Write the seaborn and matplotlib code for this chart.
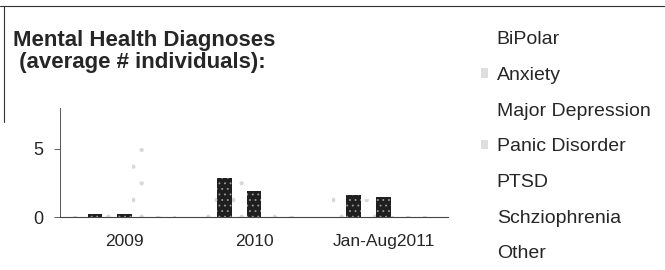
import numpy as np
import pandas as pd
import matplotlib
matplotlib.use("Agg")
import matplotlib.pyplot as plt
from matplotlib.lines import Line2D
from matplotlib.patches import Patch
import seaborn as sns

# ---- data ----
periods = ['2009', '2010', 'Jan-Aug2011']
categories = ['BiPolar', 'Anxiety', 'Major Depression', 'Panic Disorder',
              'PTSD', 'Schziophrenia', 'Other']
v_2009 = [0.1, 0.2, 0.7, 0.2, 5.4, 0.05, 0.05]
v_2010 = [2.2, 2.9, 3.3, 1.9, 0.3, 0.1, 0.05]
v_2011 = [2.0, 1.6, 1.3, 1.5, 0.1, 0.05, 0.05]

# dark stipple for the two visible series, near-white for the rest
dark = ['Anxiety', 'Panic Disorder']
palette = {c: ('#1f1f1f' if c in dark else '#ffffff') for c in categories}

df = pd.DataFrame({
    'period': np.repeat(periods, len(categories)),
    'diagnosis': categories * len(periods),
    'value': v_2009 + v_2010 + v_2011,
})

sns.set_theme(style="white")
plt.rcParams['font.family'] = ['Liberation Sans', 'DejaVu Sans']
plt.rcParams['hatch.linewidth'] = 0.6

fig = plt.figure(figsize=(6.65, 2.7), dpi=100)
ax = fig.add_axes([0.090, 0.196, 0.584, 0.404])

sns.barplot(data=df, x='period', y='value', hue='diagnosis', order=periods,
            hue_order=categories, palette=palette, width=0.8, ax=ax,
            legend=False, saturation=1)

# stipple texture on the bars
for i, c in enumerate(categories):
    for bar in ax.containers[i]:
        bar.set_linewidth(0)
        if c in dark:
            bar.set_hatch('...')
            bar.set_edgecolor('#9a9a9a')
        else:
            bar.set_hatch('.')
            bar.set_edgecolor('#d8d8d8')

ax.set_xlim(-0.5, 2.5)
ax.set_ylim(0, 8)
ax.set_yticks([0, 5])
ax.set_xlabel('')
ax.set_ylabel('')
ax.set_xticks([0.5, 1.5], minor=True)
ax.tick_params(axis='x', which='major', length=0, labelsize=12.5, pad=12)
ax.tick_params(axis='x', which='minor', length=3, width=0.6, color='#444444', direction='out')
ax.tick_params(axis='y', length=4, width=0.6, color='#444444', labelsize=13,
               left=True, direction='out', pad=8)
for s in ['top', 'right']:
    ax.spines[s].set_visible(False)
ax.spines['left'].set_linewidth(0.7)
ax.spines['left'].set_color('#555555')
ax.spines['bottom'].set_linewidth(0.8)
ax.spines['bottom'].set_color('#444444')

# title block
fig.text(0.02, 0.81, "Mental Health Diagnoses\n (average # individuals):",
         fontsize=16, fontweight='bold', ha='left', va='center', linespacing=1.05)

# legend
handles = [Patch(facecolor=('#dedede' if c in dark else 'white'),
                 edgecolor='none') for c in categories]
fig.legend(handles, categories, loc='upper left', bbox_to_anchor=(0.712, 0.913),
           frameon=False, fontsize=14, handlelength=0.35, handleheight=0.35,
           handletextpad=0.45, labelspacing=0.96, borderaxespad=0)

# frame lines of the original box
fig.add_artist(Line2D([0.0, 1.0], [0.978, 0.978], color='#333333', lw=0.8))
fig.add_artist(Line2D([0.006, 0.006], [0.55, 0.978], color='#333333', lw=0.8))

fig.savefig('out.png', dpi=100)
